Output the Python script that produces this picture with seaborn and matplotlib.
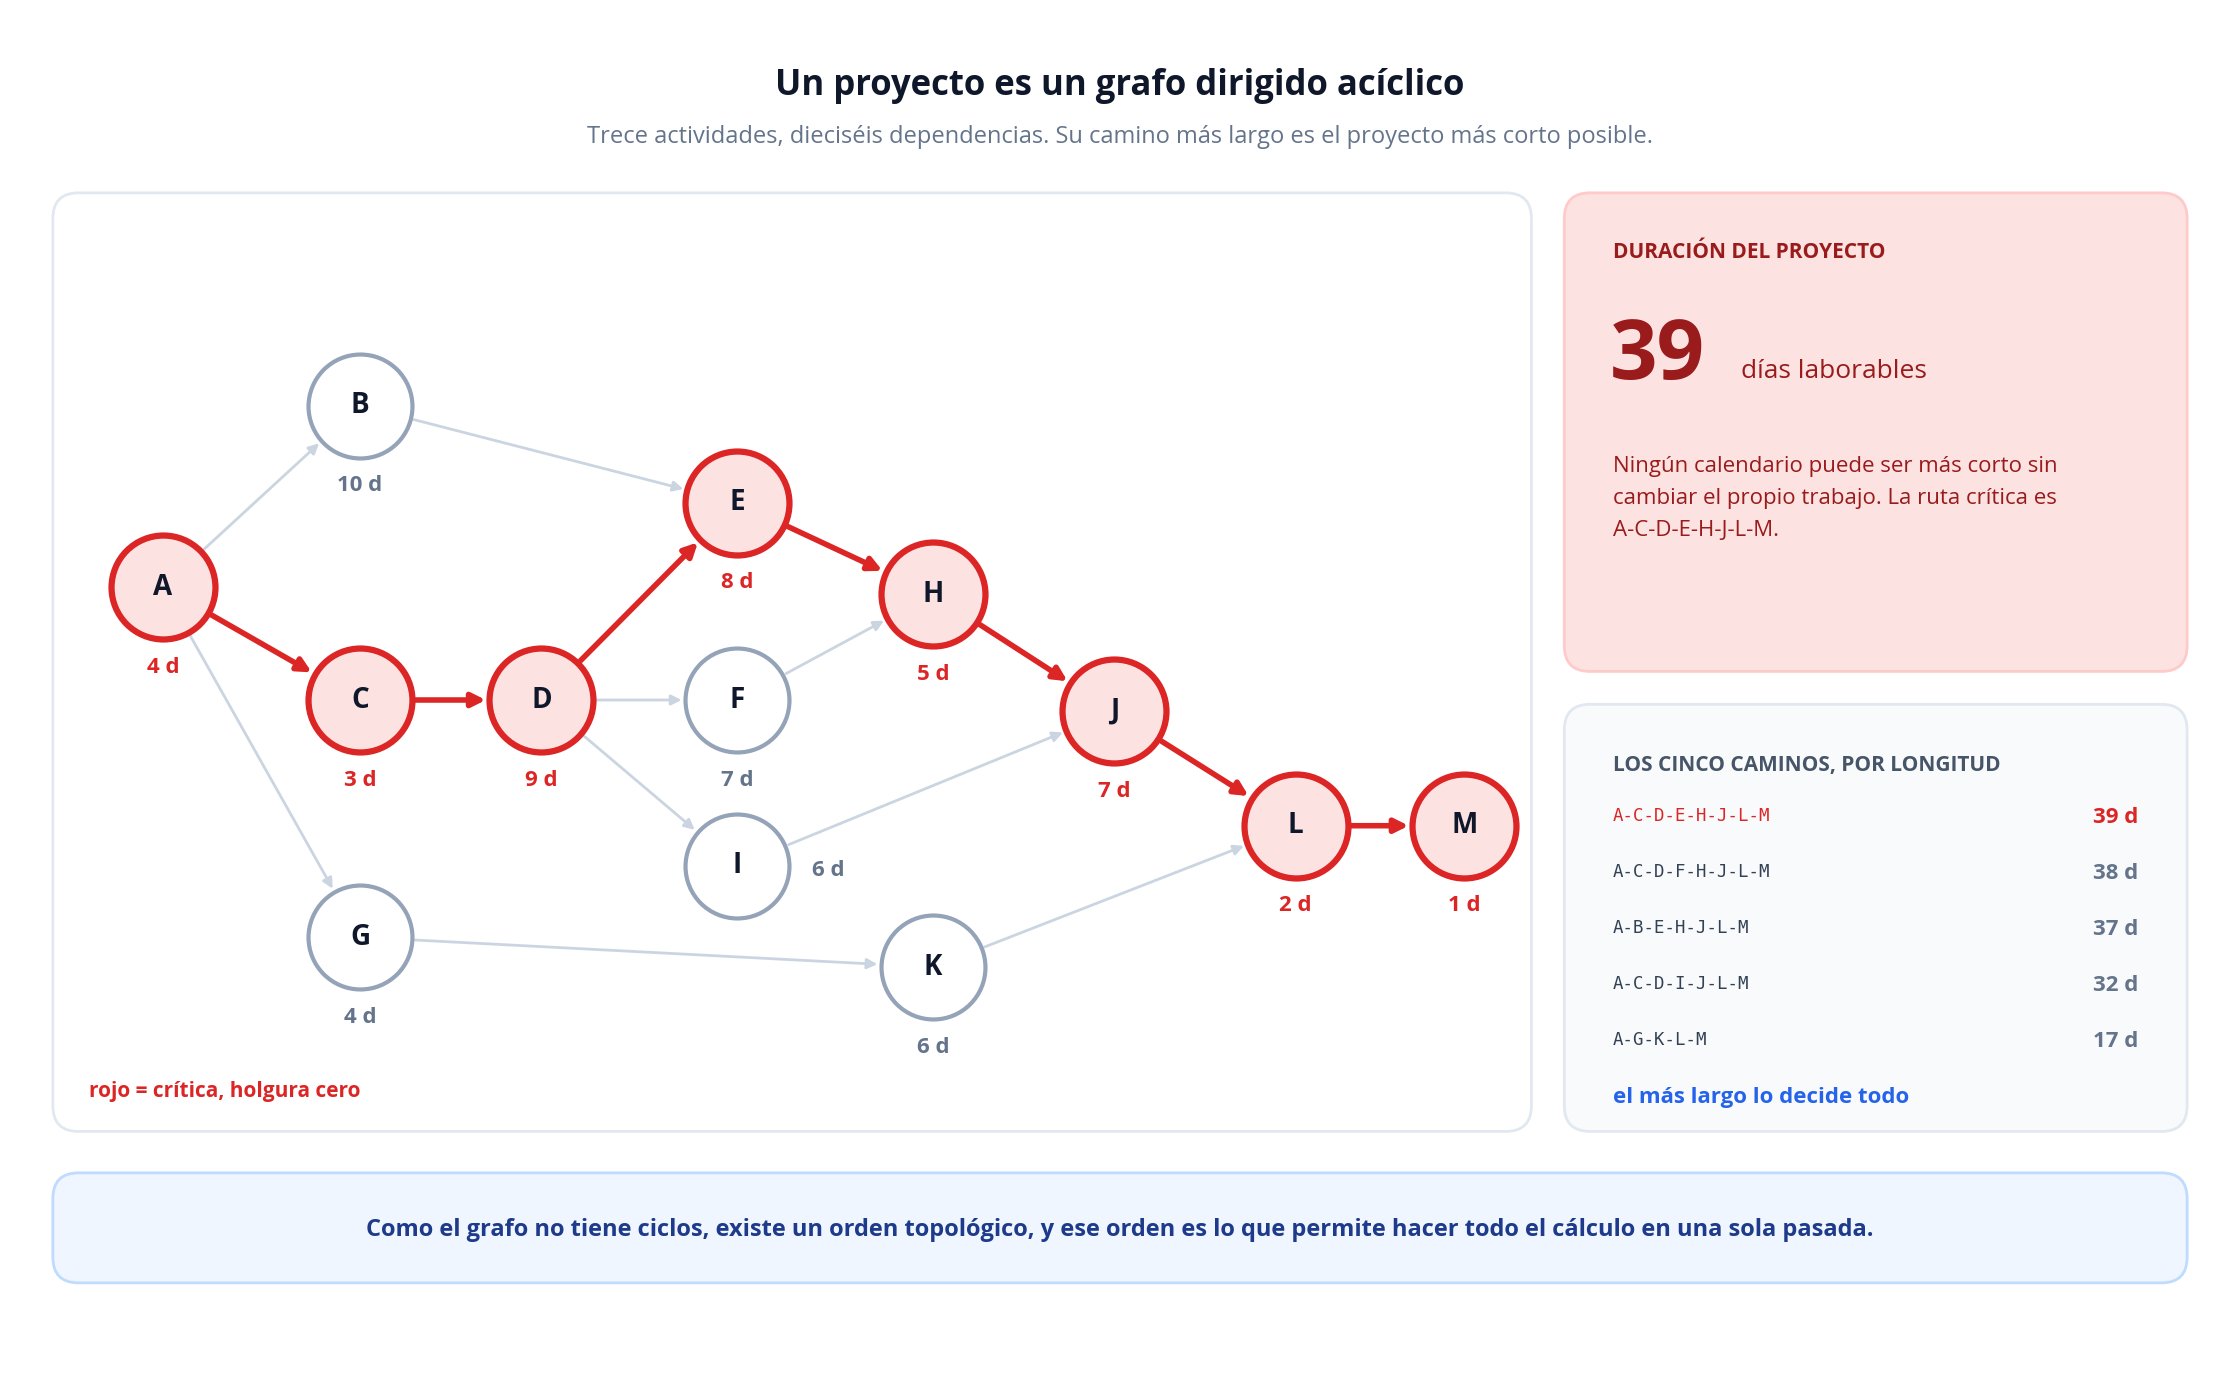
import matplotlib
matplotlib.use("Agg")
import matplotlib.pyplot as plt
from matplotlib.patches import FancyBboxPatch
import seaborn as sns
import pandas as pd

sns.set_theme(style="white")
plt.rcParams['font.family'] = ['Open Sans', 'Lato', 'DejaVu Sans']

# ---- data ----
nodes = ["A", "B", "C", "D", "E", "F", "G", "H", "I", "J", "K", "L", "M"]
node_x = [114, 252, 252, 379, 516, 516, 252, 653, 516, 780, 653, 907, 1025]
node_y = [411, 284, 490, 490, 352, 490, 656, 416, 606, 498, 677, 578, 578]
durations = [4, 10, 3, 9, 8, 7, 4, 5, 6, 7, 6, 2, 1]
critical = ["A", "C", "D", "E", "H", "J", "L", "M"]
edges = [("A", "B"), ("A", "C"), ("A", "G"), ("B", "E"), ("C", "D"), ("D", "E"),
         ("D", "F"), ("D", "I"), ("E", "H"), ("F", "H"), ("G", "K"), ("H", "J"),
         ("I", "J"), ("J", "L"), ("K", "L"), ("L", "M")]
paths = ["A-C-D-E-H-J-L-M", "A-C-D-F-H-J-L-M", "A-B-E-H-J-L-M", "A-C-D-I-J-L-M", "A-G-K-L-M"]
path_len = [39, 38, 37, 32, 17]

RED = "#dc2626"; DARKRED = "#991b1b"; GREY = "#94a3b8"; EDGEG = "#cbd5e1"
NAVY = "#0f172a"; SLATE = "#64748b"

fig = plt.figure(figsize=(22.4, 14), dpi=100)
ax = fig.add_axes([0, 0, 1, 1])
ax.set_xlim(0, 1568); ax.set_ylim(980, 0); ax.axis("off")

def box(x0, y0, x1, y1, fc, ec):
    ax.add_patch(FancyBboxPatch((x0, y0), x1 - x0, y1 - y0,
                                boxstyle="round,pad=0,rounding_size=18",
                                fc=fc, ec=ec, lw=2, zorder=0))

ax.text(784, 60, "Un proyecto es un grafo dirigido acíclico", ha="center", va="center",
        fontsize=25, fontweight="bold", color=NAVY)
ax.text(784, 96, "Trece actividades, dieciséis dependencias. Su camino más largo es el proyecto más corto posible.",
        ha="center", va="center", fontsize=17, color=SLATE)

box(37, 135, 1072, 792, "white", "#e2e8f0")
box(1095, 135, 1531, 470, "#fde2e2", "#fecaca")
box(1095, 493, 1531, 792, "#f8fafc", "#e2e8f0")
box(37, 821, 1531, 898, "#eff6ff", "#bfdbfe")

pos = {n: (x, y) for n, x, y in zip(nodes, node_x, node_y)}
for a, b in edges:
    crit = a in critical and b in critical
    ax.annotate("", xy=pos[b], xytext=pos[a],
                arrowprops=dict(arrowstyle="-|>", color=RED if crit else EDGEG,
                                lw=4 if crit else 2, shrinkA=40, shrinkB=40,
                                mutation_scale=20 if crit else 15),
                zorder=1)

df = pd.DataFrame({"x": node_x, "y": node_y, "n": nodes, "d": durations})
df["crit"] = df["n"].isin(critical)
for c, sub in df.groupby("crit"):
    sns.scatterplot(data=sub, x="x", y="y", ax=ax, s=5600,
                    color="#fde2e2" if c else "white",
                    edgecolor=RED if c else GREY, linewidth=4.5 if c else 3,
                    zorder=3, legend=False)
for _, r in df.iterrows():
    ax.text(r.x, r.y, r.n, ha="center", va="center", fontsize=20, fontweight="bold",
            color=NAVY, zorder=4)
    col = RED if r.crit else SLATE
    if r.n == "I":
        ax.text(r.x + 64, r.y + 3, f"{r.d} d", ha="center", va="center", fontsize=16,
                fontweight="bold", color=col)
    else:
        ax.text(r.x, r.y + 56, f"{r.d} d", ha="center", va="center", fontsize=16,
                fontweight="bold", color=col)

ax.text(62, 764, "rojo = crítica, holgura cero", ha="left", va="center", fontsize=15,
        fontweight="bold", color=RED)

# right top
ax.text(1129, 177, "DURACIÓN DEL PROYECTO", ha="left", va="center", fontsize=15,
        fontweight="bold", color=DARKRED)
ax.text(1127, 250, str(path_len[0]), ha="left", va="center", fontsize=60,
        fontweight="bold", color=DARKRED)
ax.text(1219, 260, "días laborables", ha="left", va="center", fontsize=19, color=DARKRED)
ax.text(1129, 349, "Ningún calendario puede ser más corto sin\ncambiar el propio trabajo. La ruta crítica es\n"
        + paths[0] + ".", ha="left", va="center", fontsize=16, color=DARKRED, linespacing=1.7)

# right bottom
ax.text(1129, 536, "LOS CINCO CAMINOS, POR LONGITUD", ha="left", va="center", fontsize=15,
        fontweight="bold", color="#475569")
for i, (p, L) in enumerate(zip(paths, path_len)):
    y = 571 + i * 39.3
    col = RED if i == 0 else "#334155"
    ax.text(1129, y, p, ha="left", va="center", fontsize=12.5, family="DejaVu Sans Mono",
            color=col)
    ax.text(1497, y + 1, f"{L} d", ha="right", va="center", fontsize=16, fontweight="bold",
            color=RED if i == 0 else SLATE)
ax.text(1129, 768, "el más largo lo decide todo", ha="left", va="center", fontsize=16,
        fontweight="bold", color="#2563eb")

ax.text(784, 861, "Como el grafo no tiene ciclos, existe un orden topológico, y ese orden es lo que permite hacer todo el cálculo en una sola pasada.",
        ha="center", va="center", fontsize=17, fontweight="bold", color="#1e3a8a")

fig.savefig("out.png", dpi=100, facecolor="white")
